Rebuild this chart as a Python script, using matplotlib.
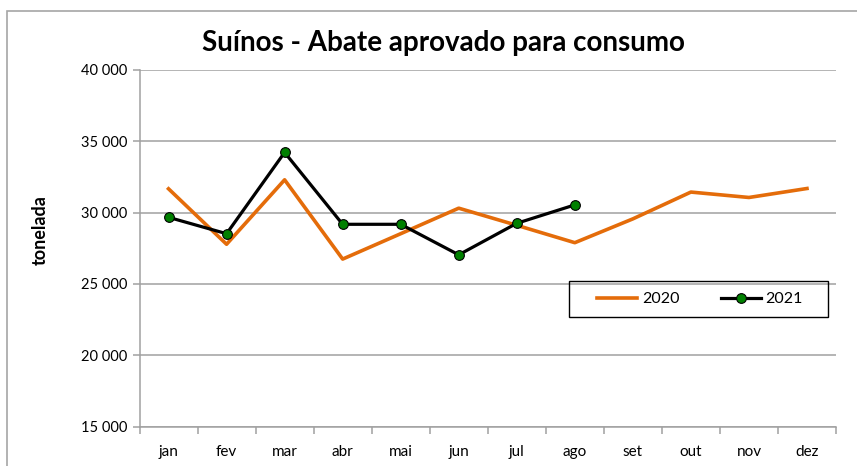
import matplotlib
matplotlib.use('agg')
import matplotlib.pyplot as plt
from matplotlib.patches import Rectangle
from matplotlib.ticker import FuncFormatter, FixedLocator, NullFormatter
import numpy as np

plt.rcParams['font.family'] = ['Lato', 'DejaVu Sans']

months = ['jan', 'fev', 'mar', 'abr', 'mai', 'jun', 'jul', 'ago', 'set', 'out', 'nov', 'dez']
y2020 = [31670, 27780, 32300, 26740, 28520, 30310, 29110, 27890, 29560, 31440, 31060, 31690]
y2021 = [29670, 28520, 34220, 29180, 29180, 27040, 29250, 30540]

W, H = 857, 466
fig = plt.figure(figsize=(W / 100, H / 100), dpi=100)
# outer chart border (as in the spreadsheet export)
fig.patches.append(Rectangle((7 / W, -0.1), 1.0, 1 - 11 / H + 0.1, transform=fig.transFigure,
                             fill=False, edgecolor='#a6a6a6', linewidth=1.2))

ax = fig.add_axes([139.5 / W, 1 - 426.5 / H, (836 - 139.5) / W, (426.5 - 70) / H])

x = np.arange(len(months))
ax.plot(x, y2020, color='#e46c0a', linewidth=2.6, label='2020', zorder=3)
ax.plot(np.arange(len(y2021)), y2021, color='black', linewidth=2.3, marker='o', markersize=7,
        markerfacecolor='#008000', markeredgecolor='black', markeredgewidth=0.8, label='2021', zorder=4)

ax.set_xlim(-0.5, len(months) - 0.5)
ax.set_ylim(15000, 40000)
ax.set_yticks(range(15000, 40001, 5000))
ax.yaxis.set_major_formatter(FuncFormatter(lambda v, p: f'{int(v):,}'.replace(',', ' ')))
ax.grid(axis='y', color='#a0a0a0', linewidth=1.1)
ax.set_axisbelow(True)

ax.set_xticks(x)
ax.set_xticklabels(months)
ax.xaxis.set_minor_locator(FixedLocator(np.arange(-0.5, len(months), 1.0)))
ax.xaxis.set_minor_formatter(NullFormatter())
ax.tick_params(axis='x', which='major', length=0, pad=13, labelsize=11)
ax.tick_params(axis='x', which='minor', length=5, color='#a0a0a0', width=1.1)
ax.tick_params(axis='y', length=5, color='#a0a0a0', width=1.1, labelsize=10.5, pad=4)

for s in ['top', 'right']:
    ax.spines[s].set_visible(False)
for s in ['left', 'bottom']:
    ax.spines[s].set_color('#a0a0a0')
    ax.spines[s].set_linewidth(1.1)

fig.text(40 / W, 1 - 230 / H, 'tonelada', rotation=90, ha='center', va='center',
         fontsize=13, fontweight='bold')
fig.text(443 / W, 1 - 43 / H, 'Suínos - Abate aprovado para consumo', ha='center', va='center',
         fontsize=20, fontweight='bold')

# legend box drawn by hand, entries centred inside it
fig.patches.append(Rectangle((569 / W, 1 - 317 / H), (828 - 569) / W, 36 / H, transform=fig.transFigure,
                             fill=False, edgecolor='black', linewidth=1.0))
leg = ax.legend(loc='center', bbox_to_anchor=(700 / W, 1 - 299 / H), bbox_transform=fig.transFigure,
                ncol=2, frameon=False, fontsize=11.5, handlelength=2.5, borderaxespad=0,
                handletextpad=0.3, columnspacing=2.6)

fig.savefig('out.png', dpi=100)
